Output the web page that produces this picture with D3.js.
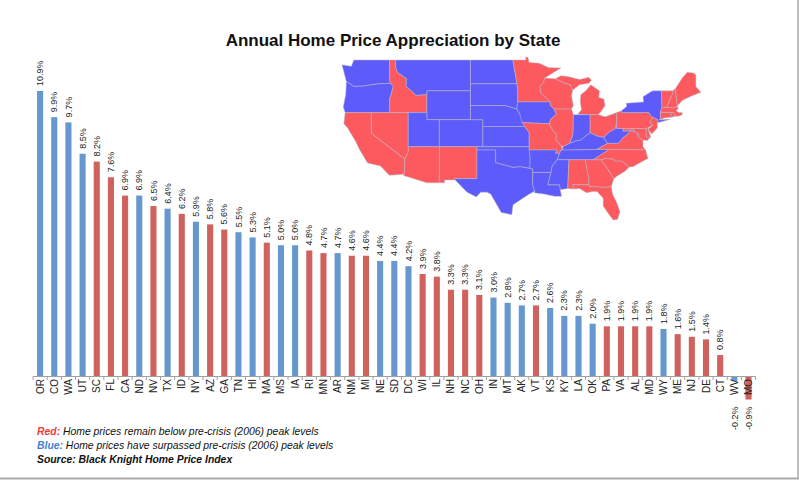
<!DOCTYPE html>
<html>
<head>
<meta charset="utf-8">
<script src="https://cdn.jsdelivr.net/npm/d3@7"></script>
<style>
  body { margin: 0; background: #fff; }
  svg { display: block; font-family: "Liberation Sans", Arial, sans-serif; }
</style>
</head>
<body>
<div id="content"></div>
<script>
// bar data, in chart order
var states = ["OR","CO","WA","UT","SC","FL","CA","ND","NV","TX","ID","NY","AZ","GA","TN","HI","MA","MS","IA","RI","MN","AR","NM","MI","NE","SD","DC","WI","IL","NH","NC","OH","IN","MT","AK","VT","KS","KY","LA","OK","PA","VA","AL","MD","WY","ME","NJ","DE","CT","WV","MO"];
var appreciation = [10.9,9.9,9.7,8.5,8.2,7.6,6.9,6.9,6.5,6.4,6.2,5.9,5.8,5.6,5.5,5.3,5.1,5.0,5.0,4.8,4.7,4.7,4.6,4.6,4.4,4.4,4.2,3.9,3.8,3.3,3.3,3.1,3.0,2.8,2.7,2.7,2.6,2.3,2.3,2.0,1.9,1.9,1.9,1.9,1.8,1.6,1.5,1.4,0.8,-0.2,-0.9];
// R = still below 2006 peak, B = above peak
var peakStatus = ["B","B","B","B","R","R","R","B","R","B","R","B","R","R","B","B","R","B","B","R","R","B","R","R","B","B","B","R","R","R","R","R","B","B","B","R","B","B","B","B","R","R","R","R","B","R","R","R","R","B","R"];

// rough state outlines, [lon, lat] (rings closed below)
var outlines = {
  WA: [[[-124.7,48.4],[-123.2,48.2],[-122.8,49.0],[-117.03,49.0],[-117.03,46.42],[-116.92,46.0],[-119.0,45.93],[-121.2,45.65],[-122.8,45.6],[-124.0,46.25]]],
  OR: [[[-124.0,46.25],[-122.8,45.6],[-121.2,45.65],[-119.0,45.93],[-116.92,46.0],[-116.46,45.6],[-116.9,44.2],[-117.03,44.0],[-117.03,42.0],[-124.2,42.0],[-124.5,42.8],[-124.1,44.5]]],
  ID: [[[-117.03,49.0],[-116.05,49.0],[-116.05,47.98],[-115.7,47.4],[-114.3,46.6],[-114.4,45.6],[-113.4,44.9],[-112.8,44.4],[-111.05,44.5],[-111.05,42.0],[-117.03,42.0],[-117.03,44.0],[-116.9,44.2],[-116.46,45.6],[-116.92,46.0],[-117.03,46.42]]],
  MT: [[[-116.05,49.0],[-104.05,49.0],[-104.05,45.0],[-111.05,45.0],[-111.05,44.5],[-112.8,44.4],[-113.4,44.9],[-114.4,45.6],[-114.3,46.6],[-115.7,47.4],[-116.05,47.98]]],
  WY: [[[-111.05,45],[-104.05,45],[-104.05,41],[-111.05,41]]],
  NV: [[[-120.0,42.0],[-114.05,42.0],[-114.05,36.2],[-114.6,35.1],[-120.0,39.0]]],
  CA: [[[-124.2,42.0],[-120.0,42.0],[-120.0,39.0],[-114.6,35.1],[-114.7,32.72],[-117.1,32.53],[-118.5,34.0],[-120.6,34.5],[-121.9,36.6],[-122.5,37.8],[-123.8,39.8],[-124.4,40.4]]],
  UT: [[[-114.05,42],[-111.05,42],[-111.05,41],[-109.05,41],[-109.05,37],[-114.05,37]]],
  CO: [[[-109.05,41],[-102.05,41],[-102.05,37],[-109.05,37]]],
  AZ: [[[-114.05,37],[-109.05,37],[-109.05,31.33],[-111.07,31.33],[-114.8,32.5],[-114.7,32.72],[-114.6,35.1],[-114.05,36.2]]],
  NM: [[[-109.05,37],[-103.0,37],[-103.0,32.0],[-106.6,32.0],[-106.5,31.78],[-108.2,31.78],[-108.2,31.33],[-109.05,31.33]]],
  ND: [[[-104.05,49],[-97.23,49],[-96.56,45.94],[-104.05,45.94]]],
  SD: [[[-104.05,45.94],[-96.56,45.94],[-96.45,45.3],[-96.45,43.5],[-96.6,42.5],[-98.5,43.0],[-104.05,43.0]]],
  NE: [[[-104.05,43],[-98.5,43.0],[-96.6,42.5],[-96.1,41.8],[-95.3,40.0],[-102.05,40.0],[-102.05,41],[-104.05,41]]],
  KS: [[[-102.05,40],[-95.3,40],[-94.6,39.1],[-94.6,37],[-102.05,37]]],
  OK: [[[-103.0,37],[-94.6,37],[-94.45,35.4],[-94.48,33.64],[-96.0,33.9],[-97.2,33.8],[-99.5,34.4],[-100.0,34.56],[-100.0,36.5],[-103.0,36.5]]],
  TX: [[[-103.0,36.5],[-100.0,36.5],[-100.0,34.56],[-99.5,34.4],[-97.2,33.8],[-96.0,33.9],[-94.48,33.64],[-94.04,33.55],[-94.04,31.0],[-93.7,30.0],[-94.7,29.4],[-97.2,27.7],[-97.4,26.0],[-99.1,26.4],[-100.8,29.5],[-101.4,29.8],[-102.4,29.8],[-103.1,29.0],[-104.6,29.8],[-106.5,31.78],[-106.6,32.0],[-103.0,32.0]]],
  MN: [[[-97.23,49],[-95.15,49],[-95.15,49.38],[-94.8,49.3],[-94.6,48.7],[-93.0,48.6],[-91.5,48.05],[-89.5,48.0],[-92.1,46.7],[-92.3,46.1],[-92.9,45.6],[-92.7,44.7],[-91.2,43.5],[-96.45,43.5],[-96.45,45.3],[-96.56,45.94]]],
  IA: [[[-96.45,43.5],[-91.2,43.5],[-91.2,43.0],[-90.6,42.5],[-90.2,41.8],[-91.1,41.1],[-91.4,40.4],[-95.77,40.58],[-96.1,41.8],[-96.6,42.5]]],
  MO: [[[-95.77,40.58],[-91.4,40.4],[-90.7,39.3],[-90.2,38.8],[-90.3,38.0],[-89.5,37.2],[-89.2,36.6],[-89.5,36.5],[-89.7,36.0],[-90.37,36.0],[-90.15,36.5],[-94.6,36.5],[-94.6,39.1],[-95.3,40.0]]],
  AR: [[[-94.6,36.5],[-90.15,36.5],[-90.37,36.0],[-89.7,36.0],[-90.1,35.0],[-90.9,34.0],[-91.1,33.0],[-94.04,33.0],[-94.04,33.55],[-94.48,33.64],[-94.45,35.4]]],
  LA: [[[-94.04,33.0],[-91.1,33.0],[-91.6,31.0],[-89.7,31.0],[-89.6,30.2],[-89.4,29.1],[-90.5,29.1],[-92.3,29.5],[-93.8,29.7],[-93.7,30.0],[-94.04,31.0]]],
  WI: [[[-92.9,45.6],[-92.3,46.1],[-92.1,46.7],[-90.4,46.6],[-88.8,46.0],[-88.0,45.8],[-87.6,45.1],[-87.8,44.3],[-87.5,43.0],[-87.8,42.5],[-90.6,42.5],[-91.2,43.0],[-91.2,43.5],[-92.7,44.7]]],
  IL: [[[-90.6,42.5],[-87.8,42.5],[-87.5,41.7],[-87.53,39.4],[-87.6,38.7],[-88.1,37.5],[-89.2,37.0],[-89.5,37.2],[-90.3,38.0],[-90.2,38.8],[-90.7,39.3],[-91.4,40.4],[-91.1,41.1],[-90.2,41.8]]],
  MI: [[[-86.8,41.76],[-84.8,41.7],[-83.5,41.73],[-83.1,42.1],[-82.4,43.0],[-82.6,43.9],[-83.4,44.1],[-83.3,45.0],[-84.7,45.8],[-85.5,45.0],[-86.3,44.5],[-86.4,43.5],[-86.2,42.4]],
       [[-90.4,46.6],[-88.8,46.0],[-88.0,45.8],[-87.6,45.1],[-86.5,45.8],[-85.0,46.0],[-84.6,46.4],[-85.0,46.8],[-86.5,46.5],[-88.4,46.9],[-89.5,47.0]]],
  IN: [[[-87.5,41.7],[-84.8,41.7],[-84.8,39.1],[-85.4,38.7],[-86.3,38.0],[-87.0,37.9],[-88.1,37.5],[-87.6,38.7],[-87.53,39.4]]],
  OH: [[[-84.8,41.7],[-83.5,41.73],[-82.4,41.4],[-80.52,42.0],[-80.52,40.6],[-80.7,39.7],[-81.7,39.2],[-82.6,38.4],[-83.7,38.6],[-84.8,39.1]]],
  KY: [[[-89.5,36.5],[-89.2,36.6],[-89.2,37.0],[-88.1,37.5],[-87.0,37.9],[-86.3,38.0],[-85.4,38.7],[-84.8,39.1],[-83.7,38.6],[-82.6,38.4],[-82.0,37.5],[-83.7,36.6],[-88.05,36.5]]],
  TN: [[[-89.5,36.5],[-88.05,36.5],[-83.7,36.6],[-81.7,36.6],[-84.3,35.0],[-90.1,35.0],[-89.7,36.0]]],
  MS: [[[-90.1,35.0],[-88.2,35.0],[-88.4,30.4],[-89.6,30.2],[-89.7,31.0],[-91.6,31.0],[-91.1,33.0],[-90.9,34.0]]],
  AL: [[[-88.2,35.0],[-85.6,35.0],[-85.0,32.0],[-85.0,31.0],[-87.6,31.0],[-87.5,30.3],[-88.4,30.4]]],
  GA: [[[-85.6,35.0],[-83.1,35.0],[-82.0,33.6],[-81.0,32.0],[-81.4,30.7],[-82.0,30.6],[-84.9,30.7],[-85.0,31.0],[-85.0,32.0]]],
  FL: [[[-87.6,31.0],[-85.0,31.0],[-84.9,30.7],[-82.0,30.6],[-81.4,30.7],[-81.2,29.5],[-80.5,28.0],[-80.0,26.5],[-80.4,25.2],[-81.1,25.1],[-81.8,26.1],[-82.7,27.5],[-82.7,28.8],[-83.7,29.9],[-84.4,29.9],[-85.4,29.7],[-86.5,30.4],[-87.5,30.3]]],
  SC: [[[-83.1,35.0],[-82.4,35.2],[-81.0,35.1],[-80.8,34.8],[-79.7,34.8],[-78.5,33.85],[-79.2,33.2],[-80.5,32.4],[-81.0,32.0],[-82.0,33.6]]],
  NC: [[[-84.3,35.0],[-81.7,36.6],[-75.9,36.55],[-75.5,35.2],[-76.5,34.7],[-77.9,33.9],[-78.5,33.85],[-79.7,34.8],[-80.8,34.8],[-81.0,35.1],[-82.4,35.2],[-83.1,35.0]]],
  VA: [[[-83.7,36.6],[-75.9,36.55],[-76.3,37.0],[-76.3,38.0],[-77.0,38.4],[-77.1,38.9],[-77.5,39.2],[-77.8,39.3],[-78.4,39.4],[-78.9,38.8],[-79.5,38.4],[-80.3,37.5],[-81.97,37.54],[-82.0,37.5]]],
  WV: [[[-82.6,38.4],[-81.7,39.2],[-80.7,39.7],[-80.52,40.6],[-80.52,39.72],[-79.48,39.72],[-79.48,39.3],[-77.8,39.55],[-77.8,39.3],[-78.4,39.4],[-78.9,38.8],[-79.5,38.4],[-80.3,37.5],[-81.97,37.54],[-82.0,37.5]]],
  MD: [[[-79.48,39.72],[-75.79,39.72],[-75.79,38.45],[-75.05,38.45],[-75.6,37.95],[-76.3,38.0],[-77.0,38.4],[-77.1,38.9],[-77.5,39.2],[-77.8,39.3],[-77.8,39.55],[-79.48,39.3]]],
  DC: [[[-77.12,38.93],[-77.04,39.0],[-76.91,38.9],[-77.04,38.79]]],
  DE: [[[-75.79,39.72],[-75.5,39.83],[-75.4,39.4],[-75.05,38.45],[-75.79,38.45]]],
  PA: [[[-80.52,42.0],[-79.76,42.27],[-79.76,42.0],[-75.35,42.0],[-75.0,41.5],[-74.7,41.35],[-75.1,40.8],[-75.2,40.6],[-74.7,40.2],[-75.5,39.83],[-75.79,39.72],[-80.52,39.72]]],
  NJ: [[[-74.7,41.35],[-73.9,41.0],[-74.0,40.5],[-74.0,39.8],[-74.9,38.9],[-75.5,39.6],[-74.7,40.2],[-75.2,40.6],[-75.1,40.8]]],
  NY: [[[-79.76,42.0],[-79.76,42.27],[-78.9,42.9],[-79.0,43.3],[-76.2,43.5],[-76.3,44.2],[-75.0,44.9],[-74.7,45.0],[-73.34,45.0],[-73.25,42.75],[-73.5,42.05],[-73.5,41.1],[-73.7,40.98],[-72.0,41.05],[-71.9,41.05],[-73.8,40.6],[-74.0,40.6],[-73.9,41.0],[-74.7,41.35],[-75.0,41.5],[-75.35,42.0]]],
  CT: [[[-73.5,42.05],[-71.8,42.02],[-71.8,41.33],[-72.9,41.25],[-73.7,40.98],[-73.5,41.1]]],
  RI: [[[-71.8,42.02],[-71.38,42.02],[-71.1,41.5],[-71.85,41.32],[-71.8,41.33]]],
  MA: [[[-73.5,42.05],[-73.25,42.75],[-71.3,42.7],[-70.8,42.87],[-70.6,42.6],[-71.0,42.3],[-70.6,42.0],[-70.0,42.0],[-70.0,41.7],[-70.6,41.5],[-71.1,41.5],[-71.38,42.02],[-71.8,42.02]]],
  VT: [[[-73.34,45.0],[-71.5,45.01],[-71.5,44.7],[-72.5,42.73],[-73.25,42.75]]],
  NH: [[[-71.5,45.01],[-71.1,45.3],[-70.8,43.2],[-70.7,43.0],[-70.8,42.87],[-71.3,42.7],[-72.5,42.73],[-71.5,44.7]]],
  ME: [[[-71.1,45.3],[-70.0,46.7],[-69.2,47.45],[-68.2,47.35],[-67.8,47.1],[-67.8,45.6],[-67.0,44.8],[-68.5,44.3],[-70.0,43.7],[-70.7,43.0],[-70.8,43.2]]]
};

var width = 799, height = 480;
var barColors = { R: "#d0625e", B: "#6698cf" };
var mapColors = { R: "#fd5a60", B: "#5d5cfb" };

var data = states.map(function (s, i) {
  return { state: s, value: appreciation[i], status: peakStatus[i] };
});

var svg = d3.select("#content").append("svg")
  .attr("width", width)
  .attr("height", height);

// frame edges
svg.append("line").attr("x1", 798).attr("x2", 798).attr("y1", 0).attr("y2", 479)
  .attr("stroke", "#aaa").attr("stroke-width", 1.5);
svg.append("line").attr("x1", 0).attr("x2", 799).attr("y1", 478.5).attr("y2", 478.5)
  .attr("stroke", "#aaa").attr("stroke-width", 2);

svg.append("text")
  .attr("x", 393).attr("y", 46)
  .attr("text-anchor", "middle")
  .style("font-size", "17px").style("font-weight", "bold").style("fill", "#111")
  .text("Annual Home Price Appreciation by State");

// --- map (mercator-like, squeezed vertically) ---
function merc(lat) { return Math.log(Math.tan(Math.PI / 4 + lat * Math.PI / 360)); }
var mx = d3.scaleLinear().domain([-124.7, -80]).range([342, 620]);
var my = d3.scaleLinear().domain([merc(49), merc(25.1)]).range([60, 220]);
var projection = d3.geoTransform({
  point: function (lon, lat) { this.stream.point(mx(lon), my(merc(lat))); }
});
var path = d3.geoPath(projection);

var statusByState = {};
data.forEach(function (d) { statusByState[d.state] = d.status; });

function closeRing(r) { return r.concat([r[0]]); }

var features = Object.keys(outlines).map(function (k) {
  return {
    type: "Feature", id: k,
    geometry: { type: "MultiPolygon", coordinates: outlines[k].map(function (r) { return [closeRing(r)]; }) }
  };
});

svg.append("g").selectAll("path")
  .data(features).enter().append("path")
  .attr("d", path)
  .attr("fill", function (d) { return mapColors[statusByState[d.id]]; })
  .attr("stroke", "#b9b9c9")
  .attr("stroke-width", 0.5)
  .attr("stroke-linejoin", "round");

// --- bars ---
var x = d3.scaleBand().domain(states).range([33, 755.6]).padding(0);
var y = d3.scaleLinear().domain([0, 10.9]).range([376, 91]);
var bw = x.bandwidth() * 0.43;

var g = svg.append("g");

g.selectAll(".bar")
  .data(data).enter().append("rect")
  .attr("class", "bar")
  .attr("x", function (d) { return x(d.state) + (x.bandwidth() - bw) / 2; })
  .attr("y", function (d) { return y(Math.max(0, d.value)); })
  .attr("width", bw)
  .attr("height", function (d) { return Math.abs(y(d.value) - y(0)); })
  .style("fill", function (d) { return barColors[d.status]; });

// axis line and ticks between categories
g.append("line")
  .attr("x1", x.range()[0]).attr("x2", x.range()[1])
  .attr("y1", y(0) + 0.5).attr("y2", y(0) + 0.5)
  .attr("stroke", "#a0a0a0");

g.selectAll(".tick")
  .data(states.concat(["end"])).enter().append("line")
  .attr("class", "tick")
  .attr("x1", function (d, i) { return x.range()[0] + i * x.step(); })
  .attr("x2", function (d, i) { return x.range()[0] + i * x.step(); })
  .attr("y1", y(0) + 0.5).attr("y2", y(0) + 4)
  .attr("stroke", "#a0a0a0");

// category labels
g.selectAll(".cat")
  .data(data).enter().append("text")
  .attr("class", "cat")
  .attr("transform", function (d) { return "translate(" + (x(d.state) + x.bandwidth() / 2) + "," + (y(0) + 3) + ") rotate(-90)"; })
  .attr("dy", "0.35em")
  .attr("text-anchor", "end")
  .style("font-size", "10px").style("fill", "#222")
  .text(function (d) { return d.state; });

// value labels
g.selectAll(".val")
  .data(data).enter().append("text")
  .attr("class", "val")
  .attr("transform", function (d) {
    var ly = d.value >= 0 ? y(d.value) - 5 : Math.max(y(d.value) + 6, y(0) + 54);
    return "translate(" + (x(d.state) + x.bandwidth() / 2) + "," + ly + ") rotate(-90)";
  })
  .attr("dy", "0.35em")
  .attr("text-anchor", "start")
  .style("font-size", "9px").style("fill", "#222")
  .text(function (d) { return d.value.toFixed(1) + "%"; });

// notes
var notes = svg.append("g").style("font-size", "10.4px").style("font-style", "italic");
var n1 = notes.append("text").attr("x", 37).attr("y", 435);
n1.append("tspan").style("fill", "#f03a3a").style("font-weight", "bold").text("Red:");
n1.append("tspan").style("fill", "#111").text("  Home prices remain below pre-crisis (2006) peak levels");
var n2 = notes.append("text").attr("x", 37).attr("y", 449);
n2.append("tspan").style("fill", "#3f7fd6").style("font-weight", "bold").text("Blue:");
n2.append("tspan").style("fill", "#111").text(" Home prices have surpassed pre-crisis (2006) peak levels");
notes.append("text").attr("x", 37).attr("y", 463)
  .style("font-weight", "bold").style("fill", "#111")
  .text("Source: Black Knight Home Price Index");
</script>
</body>
</html>
